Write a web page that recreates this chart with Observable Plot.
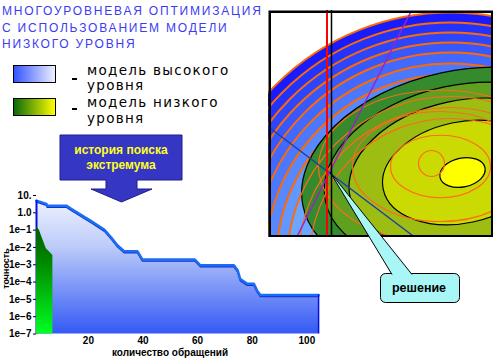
<!DOCTYPE html>
<html><head><meta charset="utf-8">
<script src="https://cdn.jsdelivr.net/npm/d3@7"></script>
<script src="https://cdn.jsdelivr.net/npm/@observablehq/plot@0.6"></script>
<style>
html,body{margin:0;padding:0;background:#fff;}
#root{position:relative;width:500px;height:360px;overflow:hidden;font-family:"Liberation Sans",Arial,sans-serif;}
.abs{position:absolute;}
#title{left:2px;top:3px;font-size:12px;line-height:16.5px;letter-spacing:1.8px;color:#3b3bf2;white-space:nowrap;}
.legbox{position:absolute;left:13px;width:41px;height:16px;border:1px solid #000;}
.legtxt{position:absolute;left:87px;font-family:"DejaVu Sans",sans-serif;font-size:13.5px;line-height:15.7px;letter-spacing:1.3px;color:#000;white-space:nowrap;}
.dash{position:absolute;left:72px;width:5px;height:1.5px;background:#000;}
.axlab{position:absolute;font-weight:bold;color:#000;white-space:nowrap;text-align:center;}
</style></head><body>
<div id="root">
  <div id="title" class="abs"></div>
  <div class="legbox" style="top:65px;background:linear-gradient(to right,#3355ff,#eef0ff);"></div>
  <div class="dash" style="top:78px"></div>
  <div class="legtxt" id="leg1a" style="top:62.5px"></div>
  <div class="legtxt" id="leg1b" style="top:78px"></div>
  <div class="legbox" style="top:98px;background:linear-gradient(to right,#0a6a0a,#ffff00);"></div>
  <div class="dash" style="top:108px"></div>
  <div class="legtxt" id="leg2a" style="top:95px"></div>
  <div class="legtxt" id="leg2b" style="top:110.6px"></div>
  <div id="chart" class="abs" style="left:0;top:180px"></div>
  <div id="xlab" class="axlab" style="left:70px;width:200px;top:347.5px;font-size:10px;line-height:10px;"></div>
  <div id="ylab" class="axlab" style="left:-24px;width:60px;top:263.5px;font-size:9px;line-height:9px;transform:rotate(-90deg);"></div>
  <div id="panel" class="abs" style="left:268px;top:10px"></div>
  <svg class="abs" style="left:0;top:0" width="500" height="360">
    <polygon points="60,135 182,135 182,180 137,180 137,189 152,189 121.5,202 91,189 106,189 106,180 60,180" fill="#3636c4" stroke="#1e1e8a" stroke-width="1"/>
    <text id="arr1" x="121" y="154" text-anchor="middle" fill="#ffff22" font-size="12" font-weight="bold" font-family="Liberation Sans, Arial, sans-serif"></text>
    <text id="arr2" x="121" y="169" text-anchor="middle" fill="#ffff22" font-size="12" font-weight="bold" font-family="Liberation Sans, Arial, sans-serif"></text>
    <rect x="380.5" y="273.5" width="79" height="29" rx="5" fill="#a8f6f6" stroke="#000" stroke-width="1"/>
    <path d="M392,274.5 L330,172 L412,274.5" fill="#a8f6f6" stroke="#000" stroke-width="1"/>
    <text id="callout" x="419" y="292" text-anchor="middle" fill="#000" font-size="12.5" font-weight="bold" font-family="Liberation Sans, Arial, sans-serif"></text>
  </svg>
</div>
<script>
// ---------- texts ----------
const titleLines = ["МНОГОУРОВНЕВАЯ ОПТИМИЗАЦИЯ", "С ИСПОЛЬЗОВАНИЕМ МОДЕЛИ", "НИЗКОГО УРОВНЯ"];
const legendLabels = [["модель высокого", "уровня"], ["модель низкого", "уровня"]];
const arrowLines = ["история поиска", "экстремума"];
const calloutText = "решение";
const xLabel = "количество обращений";
const yLabel = "точность";

// ---------- main chart data ----------
const iterations = [1, 4.6, 4.9, 11.9, 13.7, 16.1, 18.6, 21.0, 23.4, 25.9, 28.3, 30.7, 33.1, 38, 39.8, 59, 61, 73.3, 74.7, 75.6, 78.2, 80.6, 81.8, 83, 104.3];
const accuracy = [5.1, 3.3, 2.6, 2.6, 1.7, 1.0, 0.56, 0.33, 0.19, 0.105, 0.039, 0.013, 0.006, 0.006, 0.002, 0.002, 9.3e-4, 9.3e-4, 4.6e-4, 1.5e-4, 7.9e-5, 7.9e-5, 3.2e-5, 1.8e-5, 1.8e-5];
const lowIterations = [1, 2.1, 3.0, 3.7, 4.6, 5.8, 7.0];
const lowAccuracy = [0.16, 0.095, 0.039, 0.02, 0.0083, 0.0054, 0.0034];
const yTicks = [10, 1, 1e-1, 1e-2, 1e-3, 1e-4, 1e-5, 1e-6, 1e-7];
const yTickLabels = ["10.", "1.0", "1e\u22121", "1e\u22122", "1e\u22123", "1e\u22124", "1e\u22125", "1e\u22126", "1e\u22127"];
const xTicks = [20, 40, 60, 80, 100];
const accuracyFloor = 1e-7;

// ---------- contour panel data (panel units) ----------
const hiCenter = [182, 249];
const hiLevels = [247, 237, 227, 217, 207, 196, 185, 174, 163];
const hiColors = ["#1a1aff", "#2233ff", "#2c46ff", "#3758ff", "#4168ff", "#4b78ff", "#5688ff", "#6098ff", "#6aa8ff"];
const hiInnerLevels = [163, 152, 141];
const spiralCenter = [172, 156];
const spiralLevels = [50, 88, 122];
const spiralCore = [163, 153, 13];
const loCenter = [194, 162];
const loLevels = [163, 140, 115, 81, 23];
const loColors = ["#348a2c", "#5fa021", "#9dbd13", "#ccda04", "#ffff00"];
const loTilt = -12;
const searchLow = [[29, 225], [142, 2]];
const searchHigh = [[2, 118], [144, 225]];
const constraintLines = [58.5, 63];

// ---------- text ----------
document.getElementById("title").innerHTML = titleLines.join("<br>");
document.getElementById("leg1a").textContent = legendLabels[0][0];
document.getElementById("leg1b").textContent = legendLabels[0][1];
document.getElementById("leg2a").textContent = legendLabels[1][0];
document.getElementById("leg2b").textContent = legendLabels[1][1];
document.getElementById("arr1").textContent = arrowLines[0];
document.getElementById("arr2").textContent = arrowLines[1];
document.getElementById("callout").textContent = calloutText;
document.getElementById("xlab").textContent = xLabel;
document.getElementById("ylab").textContent = yLabel;

// ---------- main chart ----------
const high = iterations.map((x, i) => ({x, y: accuracy[i]}));
const low = lowIterations.map((x, i) => ({x, y: lowAccuracy[i]}));
const gradients = () => {
  const d = d3.create("svg:defs");
  const g1 = d.append("linearGradient").attr("id", "hiGrad").attr("x1", 0).attr("y1", 0).attr("x2", 0).attr("y2", 1);
  g1.append("stop").attr("offset", 0).attr("stop-color", "#eef1fe");
  g1.append("stop").attr("offset", 0.35).attr("stop-color", "#bccbf9");
  g1.append("stop").attr("offset", 1).attr("stop-color", "#3459f5");
  const g2 = d.append("linearGradient").attr("id", "loGrad").attr("x1", 0).attr("y1", 0).attr("x2", 0).attr("y2", 1);
  g2.append("stop").attr("offset", 0).attr("stop-color", "#005c00");
  g2.append("stop").attr("offset", 0.35).attr("stop-color", "#008a00");
  g2.append("stop").attr("offset", 1).attr("stop-color", "#00ff22");
  return d.node();
};
const chart = Plot.plot({
  width: 330, height: 180,
  marginLeft: 36, marginRight: 10, marginTop: 15, marginBottom: 26.5,
  style: {fontFamily: "Liberation Sans, Arial, sans-serif", fontSize: "10px", fontWeight: "bold", color: "#000", background: "transparent", overflow: "visible"},
  x: {domain: [1, 105], ticks: xTicks, tickSize: 0, tickPadding: 3, label: null},
  y: {type: "log", domain: [accuracyFloor, 10], ticks: yTicks, tickFormat: d => yTickLabels[yTicks.indexOf(d)], tickSize: 3, tickPadding: 2, label: null},
  marks: [
    gradients,
    Plot.areaY(high, {x: "x", y1: accuracyFloor, y2: "y", fill: "url(#hiGrad)"}),
    Plot.line(high, {x: "x", y: "y", stroke: "#1030d0", strokeWidth: 1.5, dy: 1.5}),
    Plot.line(high, {x: "x", y: "y", stroke: "#1a6ef5", strokeWidth: 2.5}),
    Plot.ruleX([high[0]], {x: "x", y1: accuracyFloor, y2: "y", stroke: "#0010e0", strokeWidth: 2}),
    Plot.ruleX([high[high.length - 1]], {x: "x", y1: accuracyFloor, y2: "y", stroke: "#0010e0", strokeWidth: 1.5}),
    Plot.areaY(low, {x: "x", y1: accuracyFloor, y2: "y", fill: "url(#loGrad)"})
  ]
});
document.getElementById("chart").appendChild(chart);

// ---------- contour panel ----------
const ASPECT = 1.6;
const K = 0.5523;
const ellipseSymbol = {
  draw(ctx, size) {
    const rx = Math.sqrt(size / Math.PI), ry = rx / ASPECT;
    ctx.moveTo(rx, 0);
    ctx.bezierCurveTo(rx, ry * K, rx * K, ry, 0, ry);
    ctx.bezierCurveTo(-rx * K, ry, -rx, ry * K, -rx, 0);
    ctx.bezierCurveTo(-rx, -ry * K, -rx * K, -ry, 0, -ry);
    ctx.bezierCurveTo(rx * K, -ry, rx, -ry * K, rx, 0);
    ctx.closePath();
  }
};
const hiBands = hiLevels.map((r, i) => ({x: hiCenter[0], y: hiCenter[1], r, fill: hiColors[i]}));
const hiInner = hiInnerLevels.map(r => ({x: hiCenter[0], y: hiCenter[1], r}));
const spiral = spiralLevels.map(r => ({x: spiralCenter[0], y: spiralCenter[1], r}));
const core = [{x: spiralCore[0], y: spiralCore[1], r: spiralCore[2]}];
const loBands = loLevels.map((r, i) => ({x: loCenter[0], y: loCenter[1], r, fill: loColors[i]}));
const pts = a => a.map(([x, y]) => ({x, y}));

const panel = Plot.plot({
  width: 225, height: 227, margin: 0,
  style: {background: "white", overflow: "hidden"},
  x: {domain: [0, 225], range: [0, 225], axis: null},
  y: {domain: [0, 227], range: [0, 227], axis: null},
  r: {type: "identity"},
  color: {type: "identity"},
  marks: [
    Plot.dot(hiBands, {x: "x", y: "y", r: "r", fill: "fill", stroke: "#ff6a00", strokeWidth: 2, clip: true}),
    Plot.dot(loBands, {x: "x", y: "y", r: "r", fill: "fill", stroke: "#000", strokeWidth: 1.2, symbol: ellipseSymbol, rotate: loTilt, clip: true}),
    Plot.dot(hiInner, {x: "x", y: "y", r: "r", fill: "none", stroke: "#ff6a1a", strokeWidth: 1.2, clip: true}),
    Plot.dot(spiral, {x: "x", y: "y", r: "r", fill: "none", stroke: "#ff6a1a", strokeWidth: 1.2, symbol: ellipseSymbol, clip: true}),
    Plot.dot(core, {x: "x", y: "y", r: "r", fill: "none", stroke: "#ff6a1a", strokeWidth: 1.2, clip: true}),
    Plot.line(pts(searchHigh), {x: "x", y: "y", stroke: "#1a3fa8", strokeWidth: 1.5, clip: true}),
    Plot.line(pts(searchLow), {x: "x", y: "y", stroke: "#a020c8", strokeWidth: 1.5, clip: true}),
    Plot.ruleX([constraintLines[0]], {stroke: "#ff0000", strokeWidth: 2}),
    Plot.ruleX([constraintLines[1]], {stroke: "#000", strokeWidth: 1.5}),
    Plot.frame({stroke: "#000", strokeWidth: 2.5, inset: 1.25})
  ]
});
document.getElementById("panel").appendChild(panel);
</script>
</body></html>
